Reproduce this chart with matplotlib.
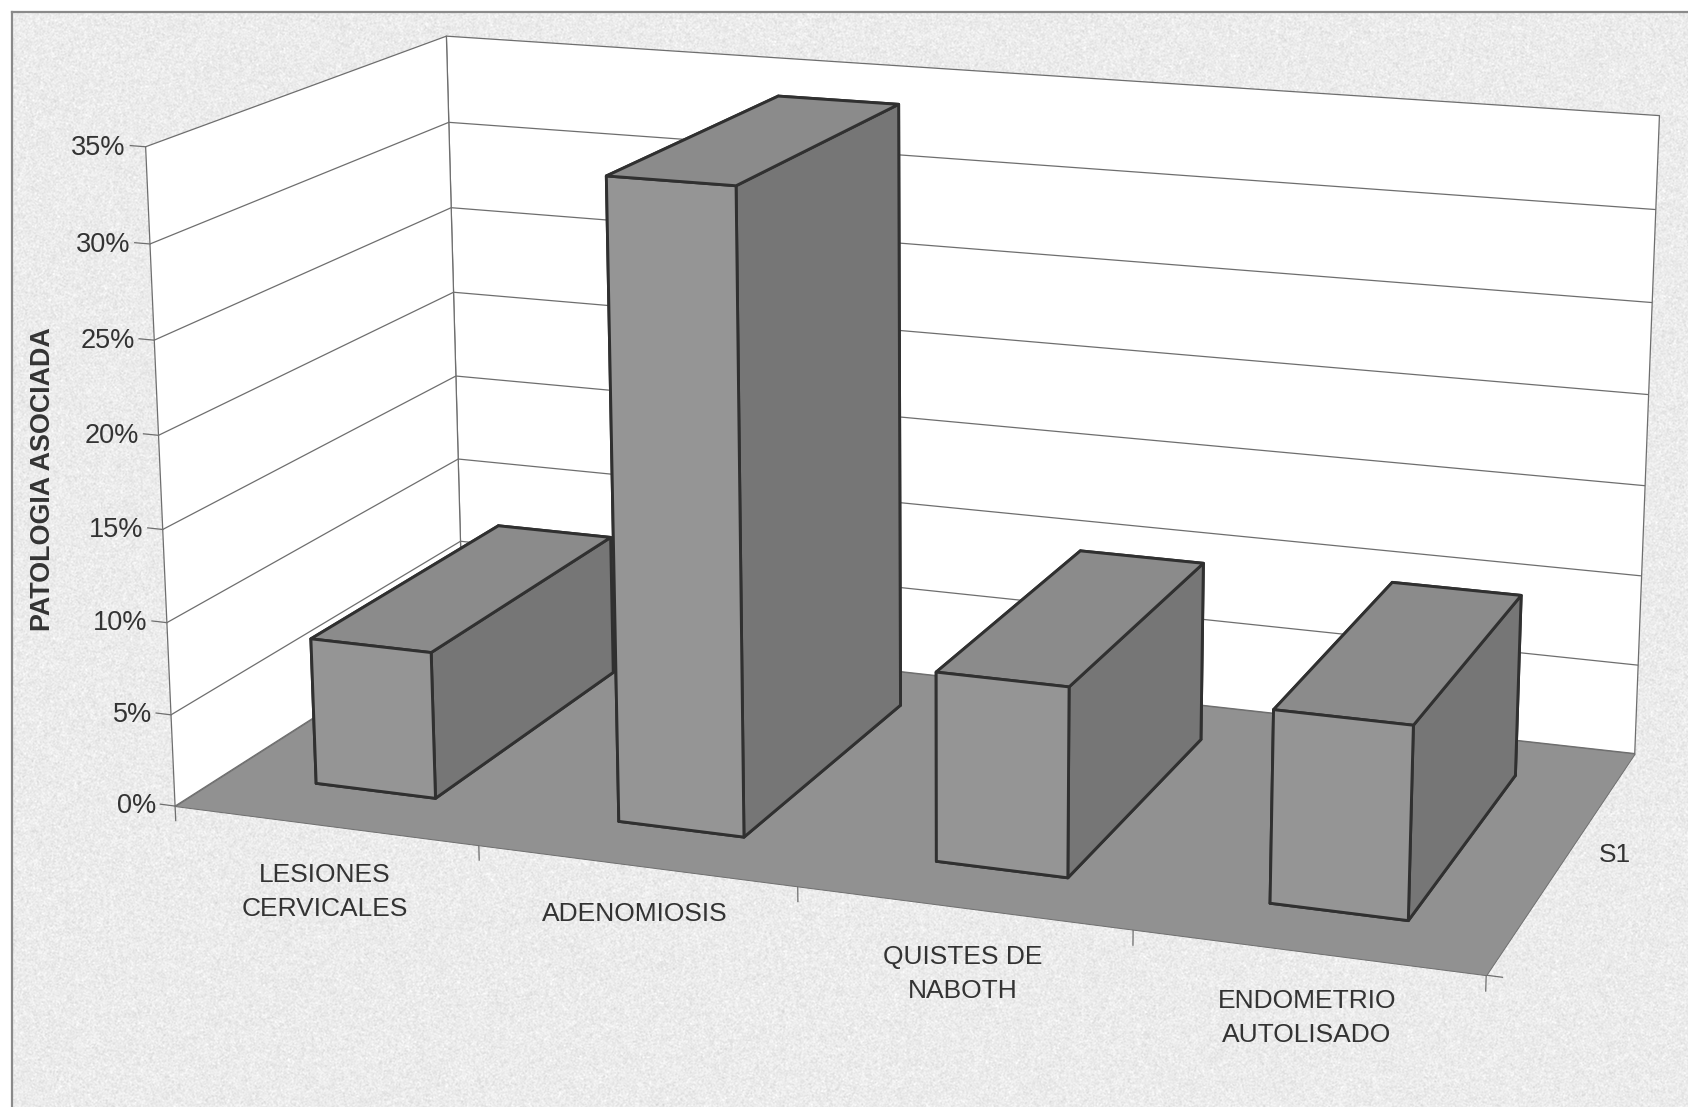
"""3D column chart of associated pathology, drawn on a fitted perspective camera."""

import numpy as np
import matplotlib
matplotlib.use('Agg')
import matplotlib.pyplot as plt
from matplotlib.lines import Line2D
from mpl_toolkits.mplot3d.art3d import Line3DCollection, Poly3DCollection

plt.rcParams['font.family'] = ['Liberation Sans', 'DejaVu Sans']

W, H = 1688, 1107

categories = ['LESIONES\nCERVICALES', 'ADENOMIOSIS', 'QUISTES DE\nNABOTH', 'ENDOMETRIO\nAUTOLISADO']
values = [8.0, 34.0, 10.0, 10.0]
y_ticks = [0, 5, 10, 15, 20, 25, 30, 35]
y_labels = ['0%', '5%', '10%', '15%', '20%', '25%', '30%', '35%']
series_name = 'S1'
y_title = 'PATOLOGIA ASOCIADA'

# pixel centres of the category captions
label_px = [(325, 892), (635, 914), (963, 974), (1307, 1018)]

# camera calibration: (category, depth, percent) -> image pixel
calib_world = np.array([
    (0, 0, 0), (1, 0, 0), (2, 0, 0), (3, 0, 0), (4, 0, 0),
    (0, 0, 35), (0, 0, 30), (0, 0, 25), (0, 0, 15), (0, 0, 10), (0, 0, 5),
    (0, 1, 0), (0, 1, 35), (0, 1, 30), (0, 1, 25), (0, 1, 20), (0, 1, 15), (0, 1, 5),
    (4, 1, 0), (4, 1, 35), (4, 1, 30),
], dtype=float)
calib_px = np.array([
    (175, 805), (478, 846), (798, 888), (1132, 932), (1487, 973.5),
    (144.6, 146.7), (150, 244.3), (155, 340.7), (164.3, 529.3), (167.1, 621.7), (170.4, 713.3),
    (463, 625), (446.6, 35.7), (448.5, 122.3), (450.8, 207.3), (453.5, 292.7), (455.8, 375.7), (460.7, 540.7),
    (1634.7, 751.7), (1659.7, 116), (1655.7, 210),
], dtype=float)

BG = 235
FLOOR = '#919191'
TOP = '#8b8b8b'
FRONT = '#959595'
SIDE = '#767676'
EDGE = '#303030'
GRID = '#6e6e6e'
TEXT = '#333333'


def fit_camera(world, image):
    """Direct linear transform, returns a 3x4 matrix."""
    rows = []
    for (x, y, z), (u, v) in zip(world, image):
        p = [x, y, z / 35.0, 1.0]
        rows.append(p + [0, 0, 0, 0] + [-u * c for c in p])
        rows.append([0, 0, 0, 0] + p + [-v * c for c in p])
    _, _, vt = np.linalg.svd(np.array(rows))
    P = vt[-1].reshape(3, 4)
    P = P / P[2, 3]
    P[:, 2] /= 35.0
    return P


def speckle(shape, mean, spread):
    """Scanner-like paper grain."""
    rng = np.random.default_rng(7)
    g = rng.normal(0, 1, shape)
    g = (g + np.roll(g, 1, 0) + np.roll(g, 1, 1) + np.roll(np.roll(g, 1, 0), 1, 1)) / 2
    return np.clip(mean + spread * g, 0, 255)


fig = plt.figure(figsize=(W / 100, H / 100), dpi=100, facecolor='white')

# panel background with its left and top border
grain = speckle((H, W), BG, 5)
grain[:12, :] = 255
grain[:, :12] = 255
fig.figimage(grain, cmap='gray', vmin=0, vmax=255, origin='upper', zorder=-2)
fig.add_artist(Line2D([12 / W, 12 / W], [0, 1 - 12 / H], transform=fig.transFigure, color='#8a8a8a', lw=1.6, zorder=-1))
fig.add_artist(Line2D([12 / W, 1], [1 - 12 / H, 1 - 12 / H], transform=fig.transFigure, color='#8a8a8a', lw=1.6, zorder=-1))

# square 3D axes wide enough to cover the whole figure
ax = fig.add_axes([0, -(W - H) / 2 / H, 1, W / H], projection='3d')
ax.set_axis_off()
ax.patch.set_visible(False)
ax.computed_zorder = False


def get_proj():
    inv = ax.transData.inverted()
    # bottom of the figure is display y = 0, so flip the calibration rows
    px = np.column_stack([calib_px[:, 0], H - calib_px[:, 1]])
    P = fit_camera(calib_world, inv.transform(px))
    depth = np.array([-0.1, 1.0, -1.0 / 35, -0.3])
    return np.vstack([P[0], P[1], depth, P[2]])


ax.get_proj = get_proj
ax.set_xlim(0, 4)
ax.set_ylim(0, 1)
ax.set_zlim(0, 35)

# walls and floor
top = y_ticks[-1]
left_wall = [(0, 0, 0), (0, 1, 0), (0, 1, top), (0, 0, top)]
back_wall = [(0, 1, 0), (4, 1, 0), (4, 1, top), (0, 1, top)]
floor = [(0, 0, 0), (4, 0, 0), (4, 1, 0), (0, 1, 0)]
ax.add_collection3d(Poly3DCollection([left_wall, back_wall], facecolors='white', edgecolors=GRID,
                                     linewidths=0.9, zorder=1))

grid_lines = []
for t in y_ticks[1:-1]:
    grid_lines.append([(0, 0, t), (0, 1, t)])
    grid_lines.append([(0, 1, t), (4, 1, t)])
ax.add_collection3d(Line3DCollection(grid_lines, colors=GRID, linewidths=0.9, zorder=2))
ax.add_collection3d(Poly3DCollection([floor], facecolors=FLOOR, edgecolors=GRID, linewidths=0.7, zorder=3))

# tick marks and percent labels on the value axis
for t, lab in zip(y_ticks, y_labels):
    ax.plot([-0.05, 0], [0, 0], [t, t], color=GRID, lw=0.9, zorder=2)
    ax.text(-0.065, 0, t - 0.15, lab, ha='right', va='center', fontsize=19.5, color=TEXT, zorder=6)

# tick marks on the category axis and the series axis
for i in range(len(categories) + 1):
    ax.plot([i, i], [0, 0], [-0.8, 0], color=GRID, lw=0.9, zorder=2)
ax.plot([4, 4.045], [0, 0], [0, 0], color=GRID, lw=0.9, zorder=2)
ax.plot([4, 4.045], [1, 1], [0, 0], color=GRID, lw=0.9, zorder=2)

# columns, left to right so the nearer ones cover the previous ones
face_colors = [TOP, TOP, FRONT, FRONT, SIDE, SIDE]
for i, v in enumerate(values):
    bar = ax.bar3d(i + 0.3, 1 / 6, 0, 0.4, 2 / 3, v, color=face_colors, shade=False,
                   edgecolor=EDGE, linewidth=2.1)
    bar.set_zorder(10 + i)

for lab, (px, py) in zip(categories, label_px):
    fig.text(px / W, 1 - py / H, lab, ha='center', va='center', fontsize=19, color=TEXT, linespacing=1.55)
fig.text(1615 / W, 1 - 855 / H, series_name, ha='center', va='center', fontsize=19, color=TEXT)
fig.text(43 / W, 1 - 479 / H, y_title, rotation=90, ha='center', va='center', fontsize=19.4,
         fontweight='bold', color=TEXT)

fig.savefig('out.png', dpi=100)
